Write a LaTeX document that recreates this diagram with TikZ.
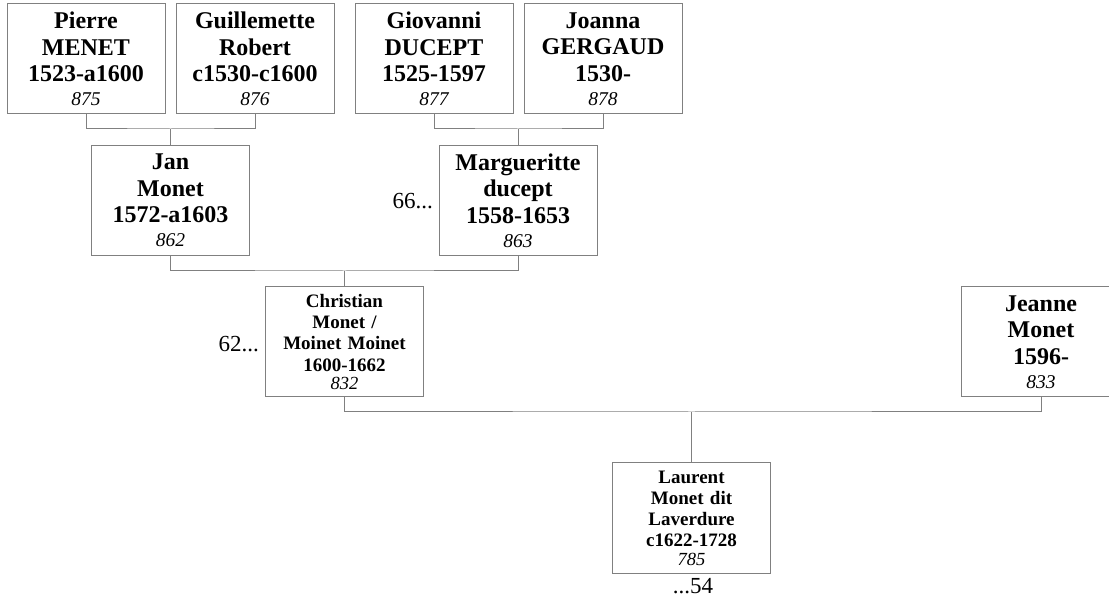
\documentclass[tikz,border=0pt]{standalone}
\usepackage{fontspec}
\setmainfont{Liberation Serif}
\definecolor{boxgray}{RGB}{128,128,128}
\newcommand{\numA}[1]{\\[-2.5pt]{\fontsize{19.5}{22}\selectfont\mdseries\itshape #1}}
\newcommand{\numB}[1]{\\[-3pt]{\fontsize{18.5}{20}\selectfont\mdseries\itshape #1}}
\tikzset{
  person/.style={draw=boxgray, line width=1pt, minimum width=158pt, minimum height=110pt,
    inner sep=0pt, align=center, text width=156pt},
  bigp/.style={person, font=\fontsize{24}{26.5}\selectfont\bfseries},
  smallp/.style={person, font=\fontsize{19}{21.3}\selectfont\bfseries},
  link/.style={draw=boxgray, line width=1pt},
  more/.style={font=\fontsize{23}{26}\selectfont, inner sep=0pt}
}
\begin{document}
\begin{tikzpicture}[x=1pt,y=-1pt]
\useasboundingbox (0,0) rectangle (1109,601);
\begin{scope}
\clip (0,0) rectangle (1109,601);
\node[bigp] (pierre) at (86,59) {Pierre\\MENET\\1523-a1600\numA{875}};
\node[bigp] (guil) at (255,59) {Guillemette\\Robert\\c1530-c1600\numA{876}};
\node[bigp] (giov) at (434,59) {Giovanni\\DUCEPT\\1525-1597\numA{877}};
\node[bigp] (joan) at (603,59) {Joanna\\GERGAUD\\1530-\numA{878}};
\node[bigp] (jan) at (170.5,200.5) {Jan\\Monet\\1572-a1603\numA{862}};
\node[bigp] (marg) at (518,200.5) {Margueritte\\ducept\\1558-1653\numA{863}};
\node[smallp] (chris) at (344.5,342) {Christian\\Monet /\\Moinet Moinet\\1600-1662\numB{832}};
\node[bigp, minimum width=160pt] (jeanne) at (1041,342) {Jeanne\\Monet\\1596-\numA{833}};
\node[smallp] (laur) at (691.5,518) {Laurent\\Monet dit\\Laverdure\\c1622-1728\numB{785}};

\coordinate (m1) at (170.5,129);
\coordinate (m2) at (518,129);
\coordinate (m3) at (344.5,271);
\coordinate (m4) at (691.5,412);

\draw[link] (pierre.south) |- (m1) -| (guil.south);
\draw[link] (m1) -- (jan.north);
\draw[link] (giov.south) |- (m2) -| (joan.south);
\draw[link] (m2) -- (marg.north);
\draw[link] (jan.south) |- (m3) -| (marg.south);
\draw[link] (m3) -- (chris.north);
\draw[link] (chris.south) |- (m4) -| (jeanne.south);
\draw[link] (m4) -- (laur.north);

\node[more, anchor=base east] (l66) at (433,209) {66...};
\node[more, anchor=base east] (l62) at (259,352) {62...};
\node[more, anchor=base] (l54) at (693,593) {...54};
\end{scope}
\end{tikzpicture}
\end{document}
